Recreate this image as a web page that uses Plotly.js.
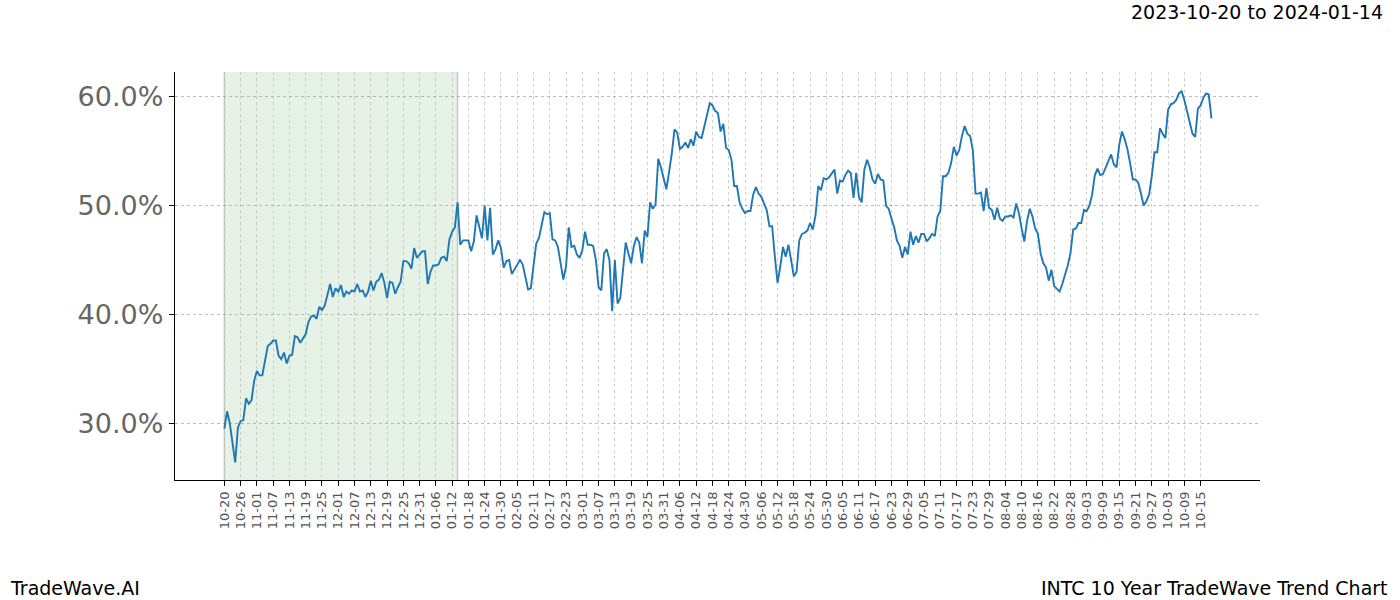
<!DOCTYPE html>
<html>
<head>
<meta charset="utf-8">
<script src="https://cdn.plot.ly/plotly-3.0.1.min.js"></script>
<style>html,body{margin:0;padding:0;background:#fff;}#chart{width:1400px;height:600px;}</style>
</head>
<body>
<div id="chart"></div>
<script>
// day offsets from 10-20 (start) and trend values in percent
const dayIdx = [0,1,2,4,5,6,7,8,9,10,11,12,13,14,16,17,18,19,20,21,22,23,24,25,26,27,28,30,31,32,33,34,35,36,37,39,40,41,42,43,44,
45,46,47,48,49,50,51,52,53,54,55,56,57,58,59,60,61,62,63,64,65,66,67,68,69,70,71,72,73,74,75,76,77,78,79,80,81,82,83,84,85,86,87,88,90,91,
92,93,94,95,96,97,98,99,100,101,102,103,104,105,106,107,108,109,110,111,112,113,114,115,116,117,118,119,120,121,122,123,124,125,126,127,128,129,130,131,132,133,134,135,
136,137,138,139,140,141,142,143,144,145,146,147,148,149,150,151,152,153,154,155,156,157,158,159,160,161,162,163,164,165,166,167,168,169,170,171,172,173,174,175,176,177,178,179,180,181,182,
183,184,185,186,187,188,189,190,191,192,193,194,195,196,197,198,199,200,201,202,203,204,205,206,207,208,209,210,211,212,213,214,215,216,217,218,219,220,221,222,223,224,225,226,227,
228,229,230,231,232,233,234,235,236,237,238,239,240,241,242,243,244,245,246,247,248,249,250,251,252,253,254,255,256,257,258,259,260,261,262,263,264,265,266,267,268,269,270,271,272,273,274,275,
276,277,278,279,280,281,282,283,284,285,286,287,288,289,290,291,292,293,294,295,296,297,298,299,300,301,302,303,304,305,306,307,308,309,310,311,312,313,314,315,316,317,318,319,320,321,
322,323,324,325,326,327,328,329,330,331,332,333,334,335,336,337,338,339,340,341,342,343,344,345,346,347,348,349,350,351,352,353,354,355,356,357,358,359,360,361,362,363,364];

const trendPct = [29.5,31.1,30.0,26.4,29.6,30.2,30.3,32.3,31.8,32.1,33.9,34.8,34.4,34.4,37.1,37.3,37.6,37.6,36.2,35.9,36.5,35.5,36.2,36.3,38.0,37.9,37.4,38.2,39.3,39.8,39.9,39.6,40.7,40.4,40.8,42.8,41.6,42.4,42.1,42.7,41.6,
42.1,41.9,42.2,42.1,42.8,42.1,42.2,41.6,42.1,43.1,42.2,43.0,43.2,43.8,42.9,41.5,43.0,42.9,41.9,42.5,43.0,44.9,44.9,44.7,44.2,46.1,45.2,45.5,45.8,45.8,42.8,43.9,44.5,44.5,44.6,45.2,45.3,44.9,46.9,47.6,48.0,50.3,46.4,46.8,46.8,45.8,
46.7,49.1,48.1,47.0,50.0,46.8,49.8,45.5,46.0,46.8,46.1,44.3,44.9,45.0,43.7,44.1,44.6,45.0,44.6,43.3,42.3,42.4,44.4,46.5,47.0,48.1,49.4,49.2,49.3,46.9,46.8,46.2,44.8,43.2,44.4,48.0,46.2,46.3,45.5,45.2,45.9,47.6,46.4,46.4,
46.3,45.0,42.5,42.2,45.6,46.0,45.0,40.3,45.0,41.0,41.5,43.9,46.6,45.6,44.7,46.3,47.1,46.6,44.7,47.7,47.1,50.3,49.7,50.1,54.3,53.5,52.6,51.5,53.1,54.8,57.0,56.7,55.2,55.4,55.8,55.3,56.1,55.5,56.8,56.3,56.2,57.3,58.5,59.4,59.2,58.7,58.5,
56.8,57.5,55.3,55.1,54.2,51.8,51.8,50.3,49.7,49.3,49.5,49.5,51.0,51.7,51.1,50.8,50.2,49.6,48.1,48.1,45.3,42.9,44.4,46.2,45.3,46.4,45.0,43.5,43.9,46.8,47.4,47.5,47.7,48.4,47.8,49.1,51.8,51.4,52.5,52.4,52.6,53.0,53.3,51.1,52.3,
52.2,52.8,53.2,53.0,50.7,53.0,50.8,50.3,53.3,54.2,53.5,52.4,52.0,52.9,52.4,52.3,50.0,49.7,48.8,48.0,46.8,46.3,45.2,46.2,45.5,47.6,46.4,47.2,46.6,47.4,47.4,46.7,47.0,47.4,47.2,49.0,49.5,52.7,52.7,53.0,53.9,55.4,54.6,55.1,56.4,57.3,56.6,56.4,
55.1,51.1,51.1,51.2,49.5,51.6,49.8,49.6,48.7,49.8,48.8,48.6,49.0,49.0,49.1,48.9,50.2,49.3,47.9,46.7,48.6,49.7,49.0,47.9,47.4,45.6,44.7,44.3,43.1,44.1,42.6,42.3,42.1,42.8,43.6,44.5,45.6,47.8,47.9,48.4,48.4,49.6,49.5,50.0,51.0,52.8,
53.4,52.8,52.9,53.5,54.2,54.7,53.8,53.5,55.6,56.8,56.1,55.2,53.9,52.4,52.4,52.1,51.1,50.0,50.4,51.0,52.7,54.9,54.9,57.1,56.6,56.2,58.8,59.3,59.4,59.7,60.3,60.5,59.7,58.6,57.4,56.6,56.3,58.9,59.2,59.9,60.3,60.2,58.0];

const tickLabels = ["10-20","10-26","11-01","11-07","11-13","11-19","11-25","12-01","12-07","12-13","12-19","12-25","12-31","01-06","01-12","01-18","01-24","01-30","02-05","02-11","02-17","02-23","03-01","03-07","03-13","03-19","03-25","03-31","04-06","04-12","04-18","04-24","04-30","05-06","05-12","05-18","05-24","05-30","06-05","06-11","06-17","06-23","06-29","07-05","07-11","07-17","07-23","07-29","08-04","08-10","08-16","08-22","08-28","09-03","09-09","09-15","09-21","09-27","10-03","10-09","10-15"];
const tickStep = 6;
const shadeStart = 0;
const shadeEnd = 86;
const yTicks = [30, 40, 50, 60];

const tickVals = tickLabels.map((_, i) => i * tickStep);

const trace = {
  x: dayIdx, y: trendPct, type: 'scatter', mode: 'lines',
  line: {color: '#1f77b4', width: 1.9}, hoverinfo: 'skip'
};

const edgeLine = {color: 'rgba(140,150,140,0.45)', width: 1.5};

const layout = {
  width: 1400, height: 600,
  margin: {l: 175, r: 140, t: 72, b: 120, pad: 0},
  paper_bgcolor: '#ffffff', plot_bgcolor: '#ffffff',
  showlegend: false,
  font: {family: 'DejaVu Sans, sans-serif'},
  xaxis: {
    range: [-18.2, 381.9], tickmode: 'array', tickvals: tickVals, ticktext: tickLabels,
    tickangle: -90, tickfont: {size: 13, color: '#555555'},
    showgrid: true, gridcolor: '#b0b0b0', gridwidth: 0.6, griddash: 'dot',
    zeroline: false, showline: true, linecolor: '#000', linewidth: 1.2,
    ticks: 'outside', ticklen: 5, tickcolor: '#000', tickwidth: 1
  },
  yaxis: {
    range: [24.79, 62.27], tickmode: 'array', tickvals: yTicks,
    ticktext: yTicks.map(v => v.toFixed(1) + '%'),
    tickfont: {size: 27, color: '#666666'},
    showgrid: true, gridcolor: '#a0a0a0', gridwidth: 0.7, griddash: 'dot',
    zeroline: false, showline: true, linecolor: '#000', linewidth: 1.2,
    ticks: 'outside', ticklen: 5, tickcolor: '#000', tickwidth: 1
  },
  shapes: [
    {type: 'rect', xref: 'x', yref: 'paper', x0: shadeStart, x1: shadeEnd, y0: 0, y1: 1,
     fillcolor: 'rgba(0,128,0,0.1)', line: {width: 0}, layer: 'below'},
    {type: 'line', xref: 'x', yref: 'paper', x0: shadeStart, x1: shadeStart, y0: 0, y1: 1, line: edgeLine, layer: 'below'},
    {type: 'line', xref: 'x', yref: 'paper', x0: shadeEnd, x1: shadeEnd, y0: 0, y1: 1, line: edgeLine, layer: 'below'}
  ],
  annotations: [
    {text: '2023-10-20 to 2024-01-14', xref: 'paper', yref: 'paper', x: 1.1152, y: 1.147,
     xanchor: 'right', yanchor: 'middle', showarrow: false, font: {size: 19, color: '#000'}},
    {text: 'TradeWave.AI', xref: 'paper', yref: 'paper', x: -0.154, y: -0.2647,
     xanchor: 'left', yanchor: 'middle', showarrow: false, font: {size: 19, color: '#000'}},
    {text: 'INTC 10 Year TradeWave Trend Chart', xref: 'paper', yref: 'paper', x: 1.1198, y: -0.2647,
     xanchor: 'right', yanchor: 'middle', showarrow: false, font: {size: 19, color: '#000'}}
  ]
};

Plotly.newPlot('chart', [trace], layout, {staticPlot: true, displayModeBar: false});
</script>
</body>
</html>
